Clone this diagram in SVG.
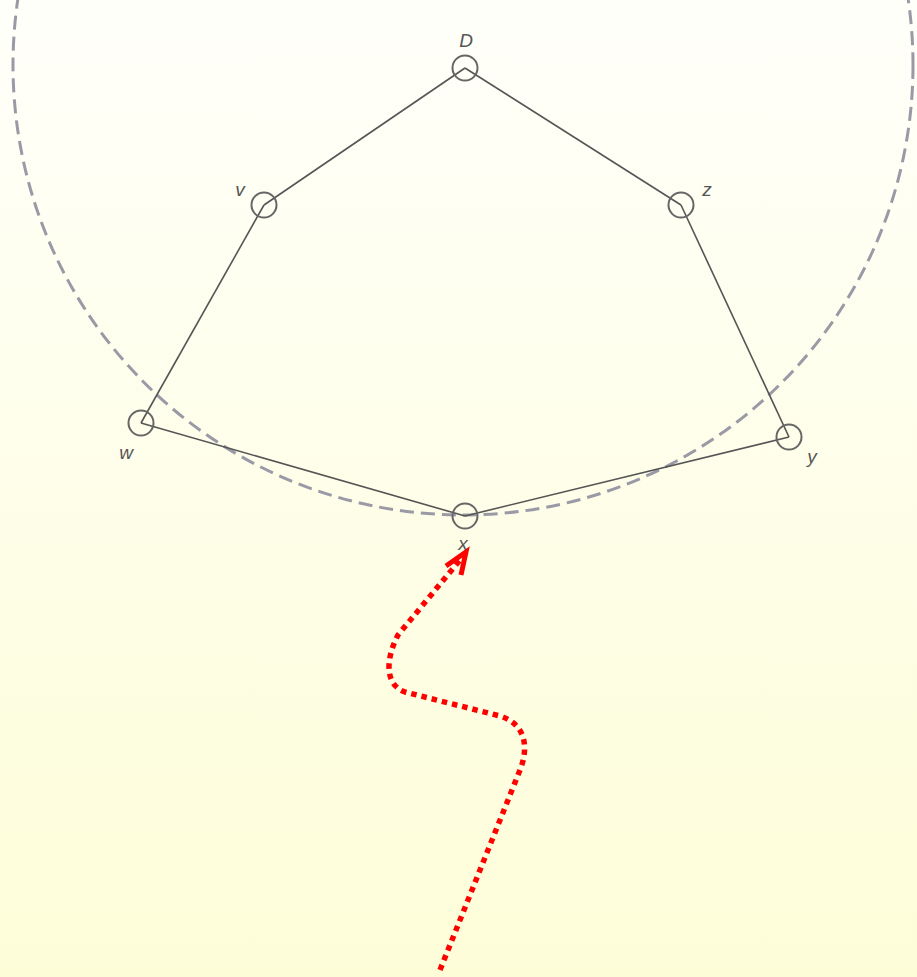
<svg xmlns="http://www.w3.org/2000/svg" width="917" height="977" viewBox="0 0 917 977">
<defs>
<linearGradient id="bg" x1="0" y1="0" x2="0" y2="1">
<stop offset="0" stop-color="#fffffa"/>
<stop offset="1" stop-color="#fdfdd8"/>
</linearGradient>
</defs>
<style>
.edge{stroke:#555;stroke-width:1.6;fill:none}
.node{fill:none;stroke:#666;stroke-width:2}
.lbl{font-family:"Liberation Sans",Arial,sans-serif;font-style:italic;font-size:19px;fill:#555;text-anchor:middle}
</style>
<rect width="917" height="977" fill="url(#bg)"/>
<circle cx="463" cy="65" r="450" fill="none" stroke="#9a9aa6" stroke-width="3" stroke-dasharray="14 7"/>
<g id="connectors">
<line class="edge" x1="465" y1="68" x2="264" y2="205"/>
<line class="edge" x1="465" y1="68" x2="681" y2="205"/>
<line class="edge" x1="264" y1="205" x2="141" y2="423"/>
<line class="edge" x1="681" y1="205" x2="789" y2="437"/>
<line class="edge" x1="141" y1="423" x2="465" y2="516"/>
<line class="edge" x1="465" y1="516" x2="789" y2="437"/>
<path d="M 440 970 L 520 770 C 528 750 528 725 500 716 L 405 692 C 385 685 385 660 398 635 L 460 560" fill="none" stroke="#ff0000" stroke-width="5.5" stroke-dasharray="5.5 5"/>
<polyline points="446,566 466,552 461,575" fill="none" stroke="#ff0000" stroke-width="5"/>
</g>
<g id="D"><circle class="node" cx="465" cy="68" r="12.5"/><text class="lbl" x="466" y="47">D</text></g>
<g id="v"><circle class="node" cx="264" cy="205" r="12.5"/><text class="lbl" x="240" y="196">v</text></g>
<g id="z"><circle class="node" cx="681" cy="205" r="12.5"/><text class="lbl" x="707" y="196">z</text></g>
<g id="w"><circle class="node" cx="141" cy="423" r="12.5"/><text class="lbl" x="126" y="459">w</text></g>
<g id="y"><circle class="node" cx="789" cy="437" r="12.5"/><text class="lbl" x="812" y="463">y</text></g>
<g id="x"><circle class="node" cx="465" cy="516" r="12.5"/><text class="lbl" x="463" y="550">x</text></g>
</svg>
